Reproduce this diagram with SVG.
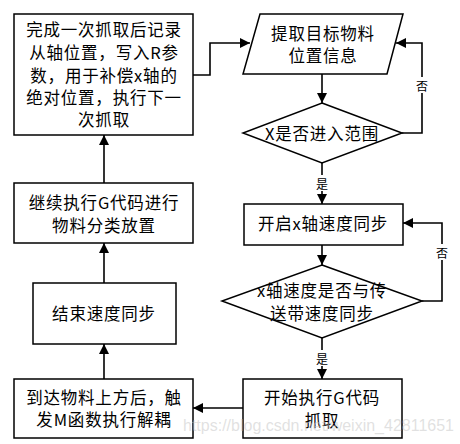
<svg xmlns="http://www.w3.org/2000/svg" width="460" height="444" viewBox="0 0 460 444">
<style>
.shape{fill:#fff;stroke:#000;stroke-width:1.5}
.t{font-family:"Noto Sans CJK SC","Noto Sans",sans-serif;font-size:16.5px;letter-spacing:0.8px;fill:#000;text-anchor:middle;dominant-baseline:central}
.lbl{font-family:"Noto Sans CJK SC",sans-serif;font-size:12px;fill:#000;text-anchor:middle;dominant-baseline:central}
.c{fill:none;stroke:#000;stroke-width:1.6}
.wm{font-family:"Liberation Sans",Arial,sans-serif;font-size:16px;fill:#c8c8c8;fill-opacity:0.55}
</style>
<defs>
<marker id="ah" markerWidth="10" markerHeight="10" refX="10" refY="5" orient="auto" markerUnits="userSpaceOnUse">
<path d="M0,0 L10,5 L0,10 Z" fill="#000"/>
</marker>
</defs>
<rect width="460" height="444" fill="#fff"/>
<g id="connectors">
<path class="c" d="M193,75 H210 V43 H250" marker-end="url(#ah)"/>
<path class="c" d="M322,74 V103" marker-end="url(#ah)"/>
<path class="c" d="M402,133 H422 V43 H396" marker-end="url(#ah)"/>
<path class="c" d="M322,163 V204" marker-end="url(#ah)"/>
<path class="c" d="M322,245 V265" marker-end="url(#ah)"/>
<path class="c" d="M422,301 H442 V223 H403" marker-end="url(#ah)"/>
<path class="c" d="M322,338 V379" marker-end="url(#ah)"/>
<path class="c" d="M243,408 H193" marker-end="url(#ah)"/>
<path class="c" d="M104,379 V344" marker-end="url(#ah)"/>
<path class="c" d="M104,283 V243" marker-end="url(#ah)"/>
<path class="c" d="M104,183 V135" marker-end="url(#ah)"/>
<rect x="414" y="77" width="16" height="16" fill="#fff"/>
<text class="lbl" x="422" y="85">否</text>
<rect x="434" y="244" width="16" height="16" fill="#fff"/>
<text class="lbl" x="442" y="252">否</text>
<rect x="314" y="175" width="16" height="16" fill="#fff"/>
<text class="lbl" x="322" y="183">是</text>
<rect x="314" y="350" width="16" height="16" fill="#fff"/>
<text class="lbl" x="322" y="358">是</text>
</g>
<g id="n1">
<rect class="shape" x="14" y="14" width="179" height="121"/>
<text class="t" x="104" y="29">完成一次抓取后记录</text>
<text class="t" x="104" y="52">从轴位置，写入R参</text>
<text class="t" x="104" y="75">数，用于补偿x轴的</text>
<text class="t" x="104" y="97">绝对位置，执行下一</text>
<text class="t" x="104" y="119">次抓取</text>
</g>
<g id="n2">
<polygon class="shape" points="260,14 403,14 387,74 243,74"/>
<text class="t" x="323" y="33">提取目标物料</text>
<text class="t" x="323" y="55">位置信息</text>
</g>
<g id="n3">
<polygon class="shape" points="322,103 402,133 322,163 243,133"/>
<text class="t" x="322" y="133">X是否进入范围</text>
</g>
<g id="n4">
<rect class="shape" x="244" y="204" width="159" height="41"/>
<text class="t" x="323" y="223">开启x轴速度同步</text>
</g>
<g id="n5">
<polygon class="shape" points="322,265 422,301 322,338 222,301"/>
<text class="t" x="322" y="290">x轴速度是否与传</text>
<text class="t" x="322" y="313">送带速度同步</text>
</g>
<g id="n6">
<rect class="shape" x="243" y="379" width="159" height="59"/>
<text class="t" x="322" y="397">开始执行G代码</text>
<text class="t" x="322" y="420">抓取</text>
</g>
<g id="n7">
<rect class="shape" x="14" y="379" width="179" height="59"/>
<text class="t" x="104" y="397">到达物料上方后，触</text>
<text class="t" x="104" y="419">发M函数执行解耦</text>
</g>
<g id="n8">
<rect class="shape" x="33" y="283" width="143" height="61"/>
<text class="t" x="104" y="313">结束速度同步</text>
</g>
<g id="n9">
<rect class="shape" x="14" y="183" width="179" height="60"/>
<text class="t" x="104" y="202">继续执行G代码进行</text>
<text class="t" x="104" y="225">物料分类放置</text>
</g>
<text class="wm" x="183" y="431">https://blog.csdn.net/weixin_42811651</text>
</svg>
